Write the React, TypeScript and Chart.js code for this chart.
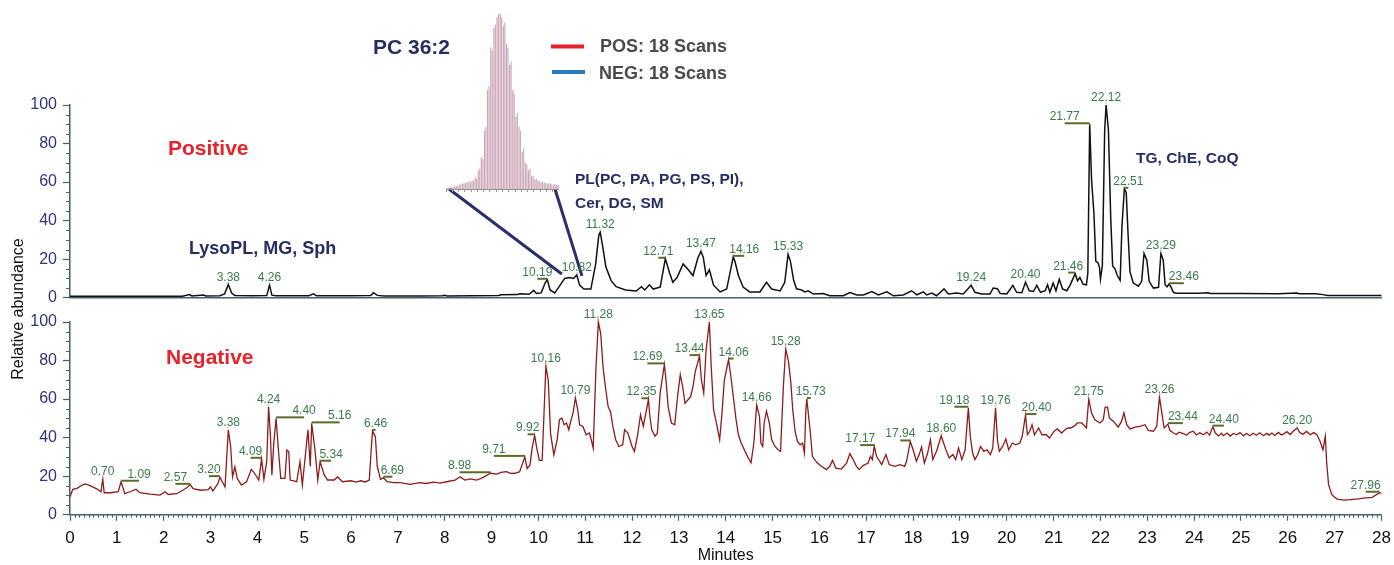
import { useEffect, useRef } from "react";
import { Chart, registerables } from "chart.js";

Chart.register(...registerables);

const FONT = '"Liberation Sans", Arial, Helvetica, sans-serif';
const W = 1394;
const H = 565;

// ---------- axes ----------
const X_MIN = 0;
const X_MAX = 28;
const X_STEP = 1;
const Y_MIN = 0;
const Y_MAX = 100;
const Y_STEP = 20;

// ---------- Positive mode chromatogram [minutes, relative abundance] ----------
const positivePoints: [number, number][] = [
  [0, 0.8], [0.6, 0.8], [1.2, 0.7], [1.8, 0.8], [2.4, 0.8], [2.55, 1.6], [2.6, 0.9], [2.85, 1.4], [2.9, 0.9],
  [3.2, 1.0], [3.3, 2.0], [3.38, 6.8], [3.45, 2.4], [3.52, 1.2], [3.9, 1.0], [4.2, 1.1], [4.26, 6.5], [4.31, 1.3],
  [4.4, 1.0], [5.1, 1.0], [5.2, 2.0], [5.26, 1.0], [6.0, 1.0], [6.42, 1.1], [6.48, 2.6], [6.56, 1.2], [6.7, 0.9],
  [7.5, 0.9], [7.95, 1.0], [8.0, 1.3], [8.05, 0.9], [8.6, 1.0], [9.15, 1.1], [9.2, 1.5], [9.55, 1.6], [9.6, 2.0],
  [9.8, 1.8], [9.9, 3.8], [9.96, 2.2], [10.06, 2.5], [10.15, 8.0], [10.19, 9.3], [10.25, 4.0], [10.35, 2.5],
  [10.45, 6.0], [10.56, 10.0], [10.66, 10.5], [10.75, 10.0], [10.82, 11.8], [10.88, 6.5], [10.97, 4.5],
  [11.12, 4.5], [11.22, 17], [11.29, 32.5], [11.32, 34], [11.37, 27], [11.44, 16], [11.55, 9], [11.66, 5.7],
  [11.86, 4], [12.09, 3.5], [12.2, 5.7], [12.27, 4], [12.37, 6.7], [12.45, 4.5], [12.6, 5.5], [12.71, 20.2],
  [12.8, 13], [12.87, 8], [12.96, 10.5], [13.09, 17.5], [13.2, 14.5], [13.3, 11.5], [13.41, 21], [13.47, 24],
  [13.52, 21], [13.58, 11.5], [13.65, 14.5], [13.74, 6.5], [13.88, 3], [14.02, 4.5], [14.16, 21.2], [14.2, 18.5],
  [14.27, 11.5], [14.37, 5.5], [14.51, 3], [14.73, 3], [14.87, 8], [14.98, 4.5], [15.16, 3.5], [15.26, 8],
  [15.33, 22.5], [15.38, 19], [15.45, 9], [15.51, 4.6], [15.62, 4], [15.69, 3], [15.76, 3.6], [15.87, 1.9],
  [16.08, 2.2], [16.22, 1], [16.51, 1], [16.65, 2.7], [16.8, 1.4], [16.94, 1.4], [17.12, 3.2], [17.26, 1.4],
  [17.44, 3], [17.58, 1], [17.79, 1.4], [17.97, 3.6], [18.08, 1.5], [18.22, 3], [18.29, 1.4], [18.4, 2.4],
  [18.5, 1], [18.66, 4.6], [18.75, 1.9], [18.93, 2.4], [19.07, 1.9], [19.24, 6.4], [19.32, 2.8], [19.46, 1.9],
  [19.64, 1.9], [19.71, 5], [19.8, 4.7], [19.86, 2.2], [20.0, 1.9], [20.13, 6.4], [20.21, 2.8], [20.32, 2.6],
  [20.4, 8], [20.48, 3.6], [20.57, 3.2], [20.64, 6.4], [20.72, 2.8], [20.82, 3.6], [20.87, 6.7], [20.92, 2.8],
  [20.99, 7.6], [21.05, 3.6], [21.12, 9.6], [21.19, 4.6], [21.28, 3.6], [21.35, 6.4], [21.46, 12.5], [21.51, 8.8],
  [21.56, 10.5], [21.63, 7], [21.7, 6.7], [21.73, 12.7], [21.77, 90], [21.81, 61], [21.86, 44], [21.9, 19],
  [21.95, 18], [21.98, 15.6], [22.0, 9.6], [22.04, 16.5], [22.09, 87], [22.12, 100], [22.17, 87], [22.22, 40.7],
  [22.26, 16.5], [22.31, 15], [22.36, 11.5], [22.42, 9], [22.46, 37.6], [22.51, 56.5], [22.55, 54.6],
  [22.59, 32.5], [22.63, 13.5], [22.7, 7.6], [22.81, 6], [22.88, 8.5], [22.93, 23], [22.99, 19.5], [23.04, 8.5],
  [23.13, 5], [23.24, 5.4], [23.29, 23], [23.34, 19.5], [23.38, 6.7], [23.42, 5.6], [23.46, 7], [23.5, 5.8],
  [23.56, 2.7], [23.63, 2.3], [24.1, 2.3], [24.3, 2.6], [24.34, 2.2], [25.0, 2.2], [25.8, 2.1], [26.2, 2.4],
  [26.24, 2.1], [26.6, 2.0], [26.75, 1.6], [26.85, 1.1], [27.5, 1.1], [28, 1.1],
];

// ---------- Negative mode chromatogram [minutes, relative abundance] ----------
const negativePoints: [number, number][] = [
  [0, 9.3], [0.06, 13.2], [0.15, 13.7], [0.26, 15.4], [0.33, 16], [0.44, 15], [0.58, 13.3], [0.66, 11.9],
  [0.7, 18.4], [0.73, 11.4], [0.86, 11.4], [1.03, 11.9], [1.09, 17.1], [1.17, 10.9], [1.28, 11.9], [1.41, 13.2],
  [1.49, 11.4], [1.71, 10.7], [1.92, 10.2], [2.03, 11.9], [2.1, 10.5], [2.28, 10.9], [2.46, 13.5], [2.57, 15.5],
  [2.63, 13.5], [2.78, 12.7], [2.95, 13], [3.0, 14.4], [3.05, 12.3], [3.16, 16.2], [3.2, 19.5], [3.27, 16.2],
  [3.31, 14.4], [3.38, 44], [3.43, 35.2], [3.47, 19.6], [3.52, 24.8], [3.57, 18.8], [3.66, 15.4], [3.77, 17.1],
  [3.87, 23.5], [3.94, 21.5], [4.03, 18], [4.09, 29], [4.14, 18.3], [4.2, 27.5], [4.24, 56], [4.28, 40.4],
  [4.31, 20.5], [4.35, 37], [4.4, 50], [4.45, 33.6], [4.5, 18.8], [4.59, 18.8], [4.63, 33.6], [4.67, 32.8],
  [4.7, 18], [4.84, 17.1], [4.91, 27.5], [4.96, 15.4], [5.08, 44], [5.13, 25], [5.16, 47.4], [5.23, 33.6],
  [5.29, 18], [5.34, 27.5], [5.43, 20.5], [5.5, 18], [5.64, 18], [5.71, 19.6], [5.82, 17.1], [6.0, 17.6],
  [6.1, 16.9], [6.21, 17.6], [6.3, 17.0], [6.39, 18], [6.43, 33.6], [6.46, 43.5], [6.52, 40.4], [6.56, 25],
  [6.63, 18.3], [6.69, 19.2], [6.77, 17.1], [6.91, 16.6], [7.05, 16.6], [7.26, 15.7], [7.47, 16.6], [7.6, 16.2],
  [7.76, 16.9], [7.9, 16.4], [8.04, 17.1], [8.22, 18], [8.33, 19.7], [8.43, 18], [8.55, 18.6], [8.68, 18],
  [8.8, 19.1], [8.98, 21.5], [9.11, 21.1], [9.2, 22.0], [9.32, 22.3], [9.4, 21.4], [9.5, 21.5], [9.6, 22.3],
  [9.71, 30], [9.76, 24], [9.82, 25.7], [9.87, 35.2], [9.92, 41.2], [9.96, 35.2], [10.02, 28.2], [10.08, 28.2],
  [10.16, 77], [10.21, 69.9], [10.26, 42.2], [10.33, 31], [10.4, 38.8], [10.45, 49.3], [10.5, 50.2],
  [10.55, 46.7], [10.6, 47.6], [10.65, 44.1], [10.68, 47.6], [10.74, 52.8], [10.79, 60.6], [10.84, 54.5],
  [10.88, 46.7], [10.95, 45.8], [11.02, 41.5], [11.09, 42.4], [11.12, 39.8], [11.17, 34.6], [11.23, 76.8],
  [11.28, 100], [11.33, 94], [11.38, 76.8], [11.43, 66.4], [11.49, 56], [11.54, 53.4], [11.59, 45.8],
  [11.65, 38.9], [11.72, 35.4], [11.8, 36.3], [11.84, 44.1], [11.91, 42.4], [12.0, 35.4], [12.05, 32.8],
  [12.12, 41.5], [12.18, 51.9], [12.24, 45.8], [12.35, 59.9], [12.38, 51.1], [12.42, 44.1], [12.49, 40.7],
  [12.54, 42.4], [12.6, 63.2], [12.69, 78], [12.73, 68.4], [12.77, 56], [12.84, 47.6], [12.91, 46.7],
  [12.98, 63.2], [13.03, 72.7], [13.08, 66.4], [13.13, 57.8], [13.19, 59.5], [13.25, 61.2], [13.3, 66.4],
  [13.35, 74.4], [13.44, 82.3], [13.48, 69.9], [13.53, 63.2], [13.58, 85.4], [13.65, 100], [13.69, 76.8],
  [13.74, 54.5], [13.8, 47.6], [13.87, 38.9], [13.92, 52.8], [13.97, 69.9], [14.06, 80.5], [14.11, 71.6],
  [14.17, 59.5], [14.22, 49.3], [14.27, 41.5], [14.33, 37.2], [14.41, 32.9], [14.48, 29.5], [14.54, 26.9],
  [14.6, 37.2], [14.66, 57], [14.72, 51.1], [14.75, 37.2], [14.79, 35.4], [14.82, 47.6], [14.87, 53.7],
  [14.93, 47.6], [14.98, 39], [15.05, 35.4], [15.12, 33.7], [15.17, 32.9], [15.23, 66.6], [15.28, 86],
  [15.34, 79.6], [15.39, 68.4], [15.43, 54.5], [15.48, 43.3], [15.53, 38], [15.59, 36.3], [15.64, 37.2],
  [15.68, 32], [15.71, 54.5], [15.73, 60], [15.8, 44.1], [15.85, 30.3], [15.94, 27.2], [16.04, 25.1],
  [16.15, 23.4], [16.22, 25.1], [16.28, 28.2], [16.35, 24.2], [16.47, 23.7], [16.58, 26.8], [16.65, 31.7],
  [16.72, 28.6], [16.79, 25.1], [16.85, 23.4], [16.93, 25.5], [17.04, 26.8], [17.09, 30.3], [17.13, 28.6],
  [17.17, 35.6], [17.22, 30.3], [17.33, 26], [17.42, 31.2], [17.49, 26], [17.61, 25.1], [17.72, 26],
  [17.82, 25.1], [17.86, 27.7], [17.94, 38], [18.0, 33.7], [18.07, 27.7], [18.13, 31.2], [18.18, 35.1],
  [18.24, 26.8], [18.31, 32], [18.37, 38.9], [18.42, 28.6], [18.5, 32.9], [18.6, 41], [18.64, 38], [18.7, 33.7],
  [18.77, 29.5], [18.85, 31.2], [18.91, 28.6], [18.97, 34.6], [19.04, 28.6], [19.11, 33.7], [19.18, 55.5],
  [19.22, 40.7], [19.27, 32], [19.32, 28.6], [19.38, 31.2], [19.44, 35.4], [19.51, 32.9], [19.58, 33.7],
  [19.65, 31.2], [19.7, 34.6], [19.76, 55.5], [19.8, 38.9], [19.84, 32.9], [19.91, 35.4], [19.98, 39.3],
  [20.04, 33.7], [20.12, 37.2], [20.19, 36.3], [20.28, 37.2], [20.33, 40.7], [20.4, 51.7], [20.44, 41.5],
  [20.49, 43.3], [20.54, 46.7], [20.59, 41.5], [20.68, 45], [20.75, 41.5], [20.84, 41.5], [20.91, 39.8],
  [21.01, 43.3], [21.08, 44.5], [21.17, 42.4], [21.26, 44.5], [21.31, 45], [21.37, 45], [21.45, 46.2],
  [21.51, 47.6], [21.6, 47.6], [21.7, 45], [21.75, 60], [21.81, 52.8], [21.88, 49.3], [21.99, 47.6],
  [22.06, 49.3], [22.1, 55.8], [22.15, 55.8], [22.19, 50.2], [22.28, 48.4], [22.38, 45.5], [22.45, 48.4],
  [22.5, 52.8], [22.56, 46.7], [22.63, 44.5], [22.74, 45.5], [22.84, 45.8], [22.95, 46.7], [23.02, 43.8],
  [23.13, 43.3], [23.2, 45.8], [23.26, 61], [23.31, 52.8], [23.36, 45], [23.44, 47], [23.48, 43.8],
  [23.56, 42.4], [23.62, 41.6], [23.68, 42.8], [23.77, 42.1], [23.84, 41.2], [23.9, 42.6], [23.98, 43.3],
  [24.05, 41.4], [24.12, 42.5], [24.2, 41.5], [24.27, 42.9], [24.33, 41.3], [24.4, 45.7], [24.45, 42.5],
  [24.52, 40.9], [24.58, 42.3], [24.62, 41], [24.7, 42.4], [24.77, 40.8], [24.84, 42.2], [24.91, 41.5],
  [24.98, 42.6], [25.05, 40.9], [25.12, 42.1], [25.19, 41], [25.26, 42.3], [25.33, 41.2], [25.4, 42.5],
  [25.48, 41], [25.55, 42.2], [25.6, 41.3], [25.66, 42.4], [25.72, 41.1], [25.8, 42.7], [25.86, 41.4],
  [25.91, 41.9], [25.98, 43.1], [26.05, 41.6], [26.12, 43.4], [26.2, 45], [26.25, 42.8], [26.32, 41.7],
  [26.4, 43.2], [26.48, 41.5], [26.55, 42.6], [26.62, 41.5], [26.69, 38], [26.75, 33.7], [26.8, 40.7],
  [26.83, 26.8], [26.87, 15.6], [26.94, 10.4], [27.05, 8.1], [27.2, 7.6], [27.33, 7.8], [27.5, 8.2],
  [27.62, 8.6], [27.8, 9.0], [27.96, 11.4], [28, 11],
];

// ---------- labelled peaks (retention times) ----------
const posPeakTimes = [3.38, 4.26, 10.19, 10.82, 11.32, 12.71, 13.47, 14.16, 15.33, 19.24, 20.4, 21.46, 21.77, 22.12, 22.51, 23.29, 23.46];
const negPeakTimes = [0.7, 1.09, 2.57, 3.2, 3.38, 4.09, 4.24, 4.4, 5.16, 5.34, 6.46, 6.69, 8.98, 9.71, 9.92, 10.16, 10.79, 11.28, 12.35, 12.69, 13.44, 13.65, 14.06, 14.66, 15.28, 15.73, 17.17, 17.94, 18.6, 19.18, 19.76, 20.4, 21.75, 23.26, 23.44, 24.4, 26.2, 27.96];

// ---------- PC 36:2 inset (18 scans each mode) ----------
const insetBins = ["1", "2", "3", "4", "5", "6", "7", "8", "9", "10", "11", "12", "13", "14", "15", "16", "17", "18", "19", "20", "21", "22", "23", "24", "25", "26", "27", "28", "29", "30", "31", "32", "33", "34", "35", "36"];
const posScanValues = [0.4, 0.9, 1.2, 1.8, 2.4, 3.1, 3.5, 4.2, 4.4, 6.5, 10.5, 18, 33, 56, 80, 91, 97, 99, 92, 82, 70, 56, 41, 35, 21, 15, 10.5, 7.5, 5.2, 4.8, 3.8, 3.7, 3.0, 3.0, 2.5, 2.2];
const negScanValues = [0.5, 0.8, 1.4, 1.6, 2.6, 2.9, 3.8, 3.9, 4.8, 5.8, 11.5, 17, 35, 58, 78, 93, 99, 97, 94, 80, 72, 54, 43, 33, 23, 14, 11.5, 7.2, 5.8, 4.4, 4.2, 3.4, 3.3, 2.7, 2.8, 2.4];

// ---------- layout (pixels) ----------
const PLOT_LEFT = 70;
const PLOT_RIGHT_PAD = 12.5;
const TOP_AREA = { top: 105, bottom: 297.7 };
const BOT_AREA = { top: 322, bottom: 514.7 };
const posLabelLead = [0, 0, -10, 0, 0, -7, 0, 11, 0, 0, 0, -7, -25, 0, 4, 0, 15];
const negLabelLead = [0, 18, -15, -11, 0, -11, 0, 28, 28, 11, 3, 9, -31, -31, -7, 0, 0, 0, -7, -17, -10, 0, 5, 0, 0, 4, -14, -10, 0, -14, 0, 11, 0, 0, 15, 11, 0, -14];
const INSET = { x: 446, y: 12, w: 113, h: 182, axisH: 5 };
const connectorTargets: [number, number][] = [[10.5, 12.3], [10.93, 11.3]];

// ---------- colours ----------
const AXIS = "#44606a";
const NAVY = "#262d63";
const TICK_NAVY = "#2f3479";
const GREEN_TXT = "#3a7b4b";
const GREEN_LINE = "#5d6b2a";
const RED_TXT = "#e8212b";

function valueAt(points: [number, number][], t: number): number {
  for (let i = 0; i < points.length; i++) {
    if (Math.abs(points[i][0] - t) < 1e-6) return points[i][1];
    if (i > 0 && points[i - 1][0] < t && points[i][0] > t) {
      const [x0, y0] = points[i - 1];
      const [x1, y1] = points[i];
      return y0 + ((t - x0) / (x1 - x0)) * (y1 - y0);
    }
  }
  return 0;
}

function drawPeakLabels(chart: any, times: number[], leads: number[], points: [number, number][]) {
  const { ctx } = chart;
  const xs = chart.scales.x;
  const ys = chart.scales.y;
  ctx.save();
  times.forEach((t, i) => {
    const px = xs.getPixelForValue(t);
    const py = ys.getPixelForValue(valueAt(points, t));
    const lead = leads[i];
    ctx.beginPath();
    if (Math.abs(lead) >= 3) {
      ctx.strokeStyle = GREEN_LINE;
      ctx.lineWidth = 2;
      ctx.moveTo(px, py - 1);
      ctx.lineTo(px + lead, py - 1);
    } else {
      ctx.strokeStyle = "#b7b7a0";
      ctx.lineWidth = 1;
      ctx.moveTo(px - 1, py - 2);
      ctx.lineTo(px + 1, py - 2);
    }
    ctx.stroke();
    ctx.fillStyle = GREEN_TXT;
    ctx.font = `12px ${FONT}`;
    ctx.textAlign = "center";
    ctx.textBaseline = "alphabetic";
    ctx.fillText(t.toFixed(2), px + lead, py - 4);
  });
  ctx.restore();
}

function drawMinorY(chart: any) {
  const { ctx, chartArea } = chart;
  const ys = chart.scales.y;
  ctx.save();
  ctx.strokeStyle = AXIS;
  ctx.lineWidth = 1;
  for (let v = Y_MIN + 5; v < Y_MAX; v += 5) {
    if (v % Y_STEP === 0) continue;
    const y = Math.round(ys.getPixelForValue(v)) + 0.5;
    ctx.beginPath();
    ctx.moveTo(chartArea.left - 4, y);
    ctx.lineTo(chartArea.left, y);
    ctx.stroke();
  }
  ctx.restore();
}

function drawMinorX(chart: any) {
  const { ctx, chartArea } = chart;
  const xs = chart.scales.x;
  ctx.save();
  ctx.strokeStyle = AXIS;
  ctx.lineWidth = 1;
  for (let k = 1; k < (X_MAX - X_MIN) * 10; k++) {
    if (k % 10 === 0) continue;
    const x = Math.round(xs.getPixelForValue(X_MIN + k / 10)) + 0.5;
    ctx.beginPath();
    ctx.moveTo(x, chartArea.bottom);
    ctx.lineTo(x, chartArea.bottom + 3);
    ctx.stroke();
  }
  ctx.restore();
}

function text(ctx: CanvasRenderingContext2D, s: string, x: number, y: number, font: string, color: string, align: CanvasTextAlign = "left") {
  ctx.font = font;
  ctx.fillStyle = color;
  ctx.textAlign = align;
  ctx.textBaseline = "alphabetic";
  ctx.fillText(s, x, y);
}

function yScaleOptions() {
  return {
    type: "linear" as const,
    min: Y_MIN,
    max: Y_MAX,
    ticks: { stepSize: Y_STEP, color: TICK_NAVY, font: { size: 16, family: FONT }, padding: 6 },
    grid: { drawOnChartArea: false, color: AXIS, tickLength: 7, tickWidth: 1.2 },
    border: { color: AXIS, width: 1.5 },
    afterFit: (s: any) => {
      s.width = PLOT_LEFT;
    },
  };
}

export default function App() {
  const topRef = useRef<HTMLCanvasElement>(null);
  const botRef = useRef<HTMLCanvasElement>(null);
  const insetRef = useRef<HTMLCanvasElement>(null);

  useEffect(() => {
    Chart.defaults.font.family = FONT;

    const topDecor = {
      id: "topDecor",
      afterDraw(chart: any) {
        const ctx: CanvasRenderingContext2D = chart.ctx;
        drawMinorY(chart);
        ctx.save();
        const xs = chart.scales.x;
        const ys = chart.scales.y;
        const baseY = INSET.y + INSET.h - INSET.axisH;
        const corners: [number, number][] = [[INSET.x + 3, baseY], [INSET.x + INSET.w - 4, baseY]];
        ctx.strokeStyle = "#2b2e6b";
        ctx.lineWidth = 3;
        corners.forEach((c, i) => {
          ctx.beginPath();
          ctx.moveTo(c[0], c[1]);
          ctx.lineTo(xs.getPixelForValue(connectorTargets[i][0]), ys.getPixelForValue(connectorTargets[i][1]));
          ctx.stroke();
        });
        text(ctx, "Positive", 168, 155, `bold 21px ${FONT}`, RED_TXT);
        text(ctx, "LysoPL, MG, Sph", 189, 254, `bold 18px ${FONT}`, NAVY);
        text(ctx, "PL(PC, PA, PG, PS, PI),", 575, 184, `bold 15.5px ${FONT}`, NAVY);
        text(ctx, "Cer, DG, SM", 575, 208, `bold 15.5px ${FONT}`, NAVY);
        text(ctx, "TG, ChE, CoQ", 1136, 163, `bold 15.5px ${FONT}`, NAVY);
        text(ctx, "PC 36:2", 373, 54, `bold 21px ${FONT}`, NAVY);
        ctx.lineWidth = 4;
        ctx.strokeStyle = "#e8202a";
        ctx.beginPath();
        ctx.moveTo(551, 46.5);
        ctx.lineTo(584, 46.5);
        ctx.stroke();
        ctx.strokeStyle = "#2a7abf";
        ctx.beginPath();
        ctx.moveTo(552, 72);
        ctx.lineTo(585, 72);
        ctx.stroke();
        text(ctx, "POS: 18 Scans", 600, 52, `bold 18px ${FONT}`, "#4a4a4a");
        text(ctx, "NEG: 18 Scans", 599, 79, `bold 18px ${FONT}`, "#4a4a4a");
        ctx.restore();
        drawPeakLabels(chart, posPeakTimes, posLabelLead, positivePoints);
      },
    };

    const botDecor = {
      id: "botDecor",
      afterDraw(chart: any) {
        const ctx: CanvasRenderingContext2D = chart.ctx;
        drawMinorY(chart);
        drawMinorX(chart);
        ctx.save();
        text(ctx, "Negative", 166, 364, `bold 21px ${FONT}`, RED_TXT);
        ctx.translate(19, 309);
        ctx.rotate(-Math.PI / 2);
        ctx.font = `16px ${FONT}`;
        ctx.fillStyle = "#111";
        ctx.textAlign = "center";
        ctx.textBaseline = "middle";
        ctx.fillText("Relative abundance", 0, 0);
        ctx.restore();
        drawPeakLabels(chart, negPeakTimes, negLabelLead, negativePoints);
      },
    };

    const top = new Chart(topRef.current!, {
      type: "line",
      data: {
        datasets: [
          {
            label: "Positive",
            data: positivePoints.map(([x, y]) => ({ x, y })),
            borderColor: "#111111",
            borderWidth: 1.5,
            pointRadius: 0,
            tension: 0,
            clip: 4,
          } as any,
        ],
      },
      options: {
        responsive: false,
        animation: false,
        devicePixelRatio: 1,
        layout: { padding: { top: TOP_AREA.top, bottom: H - TOP_AREA.bottom, left: 0, right: PLOT_RIGHT_PAD } },
        plugins: { legend: { display: false }, tooltip: { enabled: false } },
        scales: {
          x: {
            type: "linear",
            min: X_MIN,
            max: X_MAX,
            ticks: { display: false },
            grid: { display: false },
            border: { display: true, color: AXIS, width: 1.5 },
            afterFit: (s: any) => {
              s.height = 0;
              s.paddingLeft = 0;
              s.paddingRight = 0;
            },
          },
          y: yScaleOptions(),
        },
      } as any,
      plugins: [topDecor],
    });

    const bot = new Chart(botRef.current!, {
      type: "line",
      data: {
        datasets: [
          {
            label: "Negative",
            data: negativePoints.map(([x, y]) => ({ x, y })),
            borderColor: "#8e1b1b",
            borderWidth: 1.3,
            pointRadius: 0,
            tension: 0,
            clip: 4,
          } as any,
        ],
      },
      options: {
        responsive: false,
        animation: false,
        devicePixelRatio: 1,
        layout: { padding: { top: BOT_AREA.top, bottom: 0, left: 0, right: PLOT_RIGHT_PAD } },
        plugins: { legend: { display: false }, tooltip: { enabled: false } },
        scales: {
          x: {
            type: "linear",
            min: X_MIN,
            max: X_MAX,
            ticks: { stepSize: X_STEP, color: "#111", font: { size: 17, family: FONT }, padding: 7, maxRotation: 0, autoSkip: false },
            grid: { drawOnChartArea: false, color: AXIS, tickLength: 6, tickWidth: 1.2 },
            border: { color: AXIS, width: 1.5 },
            title: { display: true, text: "Minutes", color: "#111", font: { size: 16, family: FONT }, padding: { top: 0, bottom: 0 } },
            afterFit: (s: any) => {
              s.height = H - BOT_AREA.bottom;
              s.paddingLeft = 0;
              s.paddingRight = 0;
            },
          },
          y: yScaleOptions(),
        },
      } as any,
      plugins: [botDecor],
    });

    const inset = new Chart(insetRef.current!, {
      type: "bar",
      data: {
        labels: insetBins,
        datasets: [
          {
            label: "POS: 18 Scans",
            data: posScanValues,
            backgroundColor: "rgba(238,120,120,0.75)",
            barPercentage: 0.8,
            categoryPercentage: 0.95,
          },
          {
            label: "NEG: 18 Scans",
            data: negScanValues,
            backgroundColor: "rgba(120,150,195,0.65)",
            barPercentage: 0.8,
            categoryPercentage: 0.95,
          },
        ],
      },
      options: {
        responsive: false,
        animation: false,
        devicePixelRatio: 1,
        layout: { padding: 0 },
        plugins: { legend: { display: false }, tooltip: { enabled: false } },
        scales: {
          x: {
            ticks: { display: false },
            grid: {
              drawOnChartArea: false,
              tickLength: 3,
              tickColor: (c: any) => (c.index % 2 === 0 ? "#9a9a9a" : "rgba(0,0,0,0)"),
            },
            border: { color: "#8f8f8f", width: 1 },
            afterFit: (s: any) => {
              s.height = INSET.axisH;
            },
          },
          y: { display: false, min: 0, max: 100 },
        },
      } as any,
    });

    return () => {
      top.destroy();
      bot.destroy();
      inset.destroy();
    };
  }, []);

  const full = { position: "absolute" as const, left: 0, top: 0, width: W, height: H };
  return (
    <div style={{ position: "fixed", left: 0, top: 0, width: W, height: H, background: "#fff", overflow: "hidden" }}>
      <canvas ref={topRef} width={W} height={H} style={full} />
      <canvas ref={botRef} width={W} height={H} style={full} />
      <canvas
        ref={insetRef}
        width={INSET.w}
        height={INSET.h}
        style={{ position: "absolute", left: INSET.x, top: INSET.y, width: INSET.w, height: INSET.h }}
      />
    </div>
  );
}
